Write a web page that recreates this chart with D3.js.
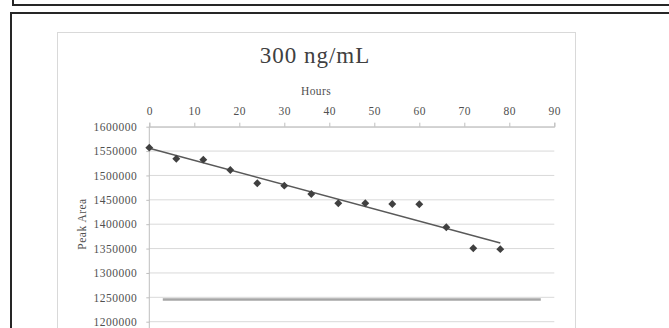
<!DOCTYPE html>
<html>
<head>
<meta charset="utf-8">
<script src="https://cdn.jsdelivr.net/npm/d3@7"></script>
<style>
  body { margin: 0; background: #fff; }
  svg { display: block; font-family: "Liberation Serif", "Times New Roman", serif; }
</style>
</head>
<body>
<svg width="669" height="328"></svg>
<script>
// data
var hours = [0, 6, 12, 18, 24, 30, 36, 42, 48, 54, 60, 66, 72, 78];
var peakArea = [1557000, 1534400, 1532400, 1511300, 1484000, 1479100, 1462100,
  1443000, 1443000, 1441600, 1441000, 1393900, 1350800, 1348800];
var limitHours = [3, 87];
var limitArea = [1245600, 1245600];
var xTicks = [0, 10, 20, 30, 40, 50, 60, 70, 80, 90];
var yTicks = [1200000, 1250000, 1300000, 1350000, 1400000, 1450000, 1500000, 1550000, 1600000];

var svg = d3.select("svg"),
  width = +svg.attr("width"),
  height = +svg.attr("height");

var x = d3.scaleLinear().domain([0, 90]).range([149.3, 554.3]);
var y = d3.scaleLinear().domain([1200000, 1600000]).range([321.7, 126.7]);

// outer frames
svg.append("path")
  .attr("d", "M13,0 V5 H" + width)
  .attr("fill", "none").attr("stroke", "#262626").attr("stroke-width", 2);
svg.append("path")
  .attr("d", "M11," + height + " V13 H" + width)
  .attr("fill", "none").attr("stroke", "#262626").attr("stroke-width", 2);

// chart area box
svg.append("rect")
  .attr("x", 57.5).attr("y", 32.5)
  .attr("width", 518).attr("height", 320)
  .attr("fill", "#fff").attr("stroke", "#d9d9d9");

svg.append("text")
  .attr("x", 315).attr("y", 63)
  .attr("text-anchor", "middle")
  .attr("font-size", 23).attr("letter-spacing", 1)
  .attr("fill", "#404040")
  .text("300 ng/mL");

// gridlines
svg.append("g")
  .selectAll("line")
  .data(yTicks)
  .enter()
  .append("line")
  .attr("x1", x(0)).attr("x2", x(90))
  .attr("y1", function(d) { return y(d); })
  .attr("y2", function(d) { return y(d); })
  .attr("stroke", "#d9d9d9");

// x axis on top
var gx = svg.append("g")
  .attr("transform", "translate(0," + y(1600000) + ")")
  .call(d3.axisTop(x).tickValues(xTicks).tickSize(4).tickPadding(8).tickFormat(d3.format("d")));

// y axis
var gy = svg.append("g")
  .attr("transform", "translate(" + x(0) + ",0)")
  .call(d3.axisLeft(y).tickValues(yTicks).tickSize(3).tickPadding(9).tickFormat(d3.format("d")));
gy.select(".domain").remove();
gy.append("line")
  .attr("y1", y(1600000)).attr("y2", height)
  .attr("stroke", "#bfbfbf");

[gx, gy].forEach(function(g) {
  g.attr("font-family", null).attr("font-size", null);
  g.select(".domain").attr("stroke", "#bfbfbf");
  g.selectAll(".tick line").attr("stroke", "#bfbfbf");
  g.selectAll(".tick text")
    .attr("fill", "#505050")
    .attr("font-size", 11.5)
    .attr("letter-spacing", 0.5);
});

svg.append("text")
  .attr("x", 316).attr("y", 95)
  .attr("text-anchor", "middle")
  .attr("font-size", 11.5).attr("letter-spacing", 0.4)
  .attr("fill", "#505050")
  .text("Hours");

svg.append("text")
  .attr("transform", "translate(86," + 224 + ") rotate(-90)")
  .attr("text-anchor", "middle")
  .attr("font-size", 11.5).attr("letter-spacing", 0.5)
  .attr("fill", "#505050")
  .text("Peak Area");

// limit line
var line = d3.line()
  .x(function(d) { return x(d[0]); })
  .y(function(d) { return y(d[1]); });

svg.append("path")
  .datum(d3.zip(limitHours, limitArea))
  .attr("d", line)
  .attr("fill", "none")
  .attr("stroke", "#a6a6a6")
  .attr("stroke-width", 2.5);

// linear trendline (least squares)
var mx = d3.mean(hours), my = d3.mean(peakArea);
var sxy = d3.sum(hours, function(h, i) { return (h - mx) * (peakArea[i] - my); });
var sxx = d3.sum(hours, function(h) { return (h - mx) * (h - mx); });
var slope = sxy / sxx, intercept = my - slope * mx;
var hx = d3.extent(hours);

svg.append("path")
  .datum(hx.map(function(h) { return [h, intercept + slope * h]; }))
  .attr("d", line)
  .attr("fill", "none")
  .attr("stroke", "#595959")
  .attr("stroke-width", 1.5);

// markers
svg.append("g")
  .selectAll("path")
  .data(d3.zip(hours, peakArea))
  .enter()
  .append("path")
  .attr("transform", function(d) { return "translate(" + x(d[0]) + "," + y(d[1]) + ")"; })
  .attr("d", d3.symbol().type(d3.symbolDiamond2).size(40))
  .attr("fill", "#404040");
</script>
</body>
</html>
